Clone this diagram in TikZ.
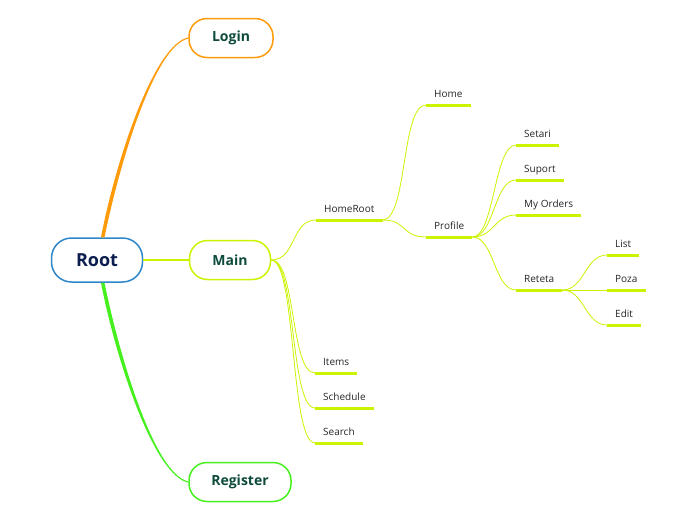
\documentclass[tikz,border=0pt]{standalone}
\usepackage{fontspec}
\setmainfont{Open Sans}
\usetikzlibrary{positioning}
\definecolor{rootblue}{RGB}{45,135,200}
\definecolor{rootink}{RGB}{12,30,80}
\definecolor{topicink}{RGB}{15,75,60}
\definecolor{lime}{RGB}{205,242,0}
\definecolor{loginorange}{RGB}{255,155,10}
\definecolor{reggreen}{RGB}{70,240,30}
\tikzset{
  topic/.style={draw, line width=1.5pt, rounded corners=18pt, minimum height=39pt,
    fill=white, font=\bfseries\fontsize{14}{16}\selectfont, text=topicink},
  leaf/.style={anchor=south west, inner xsep=8pt, inner ysep=7pt, text depth=0pt,
    font=\fontsize{10}{12}\selectfont, text=black!85},
  uline/.style={lime, line width=3pt},
  twig/.style={lime, line width=0.8pt},
}
\begin{document}
\begin{tikzpicture}[x=1pt, y=-1pt]
	\useasboundingbox (0,0) rectangle (696,520);
	% main topics
	\node[topic, draw=rootblue, text=rootink, minimum width=91pt, minimum height=44pt,
	  rounded corners=20pt, font=\bfseries\fontsize{18}{20}\selectfont] (root) at (97,260) {Root};
	\node[topic, draw=lime, minimum width=81pt] (main) at (230,260) {Main};
	\node[topic, draw=loginorange, minimum width=84pt] (login) at (231,38) {Login};
	\node[topic, draw=reggreen, minimum width=102pt] (register) at (240,482) {Register};

	% subtopics
	\node[leaf] (homeroot) at (316,220) {HomeRoot};
	\node[leaf] (items) at (315,373) {Items};
	\node[leaf] (schedule) at (315,408) {Schedule};
	\node[leaf] (search) at (315,443) {Search};
	\node[leaf] (home) at (426,105) {Home};
	\node[leaf] (profile) at (426,237) {Profile};
	\node[leaf] (setari) at (516,145) {Setari};
	\node[leaf] (suport) at (516,180) {Suport};
	\node[leaf] (myorders) at (516,215) {My Orders};
	\node[leaf] (reteta) at (516,290) {Reteta};
	\node[leaf] (list) at (607,255) {List};
	\node[leaf] (poza) at (607,290) {Poza};
	\node[leaf] (edit) at (607,325) {Edit};
	\foreach \n in {homeroot,items,schedule,search,home,profile,setari,suport,myorders,reteta,list,poza,edit}
	  \draw[uline] (\n.south west) -- (\n.south east);

	% branches from root
	\fill[loginorange] ([xshift=4pt]root.north) .. controls +(15,-78) and +(-34,7) .. ([yshift=0.6pt]login.west)
	  -- ([yshift=-0.6pt]login.west) .. controls +(-33,7) and +(16,-78) .. ([xshift=7.5pt]root.north) -- cycle;
	\fill[reggreen] ([xshift=4pt]root.south) .. controls +(15,78) and +(-34,-7) .. ([yshift=-0.6pt]register.west)
	  -- ([yshift=0.6pt]register.west) .. controls +(-33,-7) and +(16,78) .. ([xshift=7.5pt]root.south) -- cycle;
	\draw[lime, line width=1.5pt] (root) -- (main);

	% twigs
	\foreach \n in {homeroot,items,schedule,search}
	  \draw[twig] (main.east) .. controls +(25,0) and +(-25,0) .. (\n.south west);
	\foreach \n in {home,profile}
	  \draw[twig] (homeroot.south east) .. controls +(25,0) and +(-25,0) .. (\n.south west);
	\foreach \n in {setari,suport,myorders,reteta}
	  \draw[twig] (profile.south east) .. controls +(22,0) and +(-22,0) .. (\n.south west);
	\foreach \n in {list,poza,edit}
	  \draw[twig] (reteta.south east) .. controls +(22,0) and +(-22,0) .. (\n.south west);
\end{tikzpicture}
\end{document}
